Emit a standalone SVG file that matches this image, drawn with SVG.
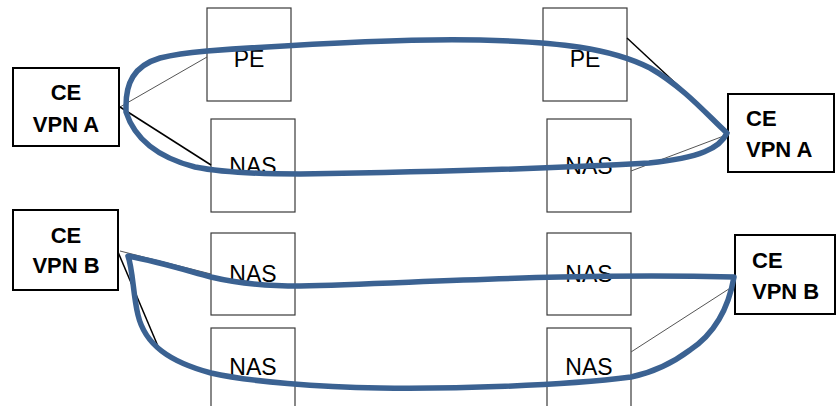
<svg xmlns="http://www.w3.org/2000/svg" width="836" height="406" viewBox="0 0 836 406">
<style>
.ce{fill:#fff;stroke:#000;stroke-width:2}
.pn{fill:#fff;stroke:#3a3a3a;stroke-width:1.2}
.t{font-family:"Liberation Sans",Arial,sans-serif;font-size:23px;fill:#000}
.b{font-family:"Liberation Sans",Arial,sans-serif;font-size:22px;font-weight:bold;fill:#000}
.lk{stroke:#000;stroke-width:1.5;fill:none}
.lg{stroke:#555;stroke-width:1;fill:none}
.tun{fill:none;stroke:#3b6292;stroke-width:5.5;stroke-linejoin:round}
</style>
<rect width="836" height="406" fill="#fff"/>
<g id="pe1"><rect class="pn" x="207" y="8" width="84" height="93"/><text class="t" x="249" y="67" text-anchor="middle" font-size="26">PE</text></g>
<g id="pe2"><rect class="pn" x="543" y="8" width="84" height="93"/><text class="t" x="585" y="67" text-anchor="middle" font-size="26">PE</text></g>
<g id="nas1"><rect class="pn" x="211" y="119" width="84" height="93"/><text class="t" x="253" y="174" text-anchor="middle">NAS</text></g>
<g id="nas2"><rect class="pn" x="547" y="119" width="84" height="93"/><text class="t" x="589" y="174" text-anchor="middle">NAS</text></g>
<g id="nas3"><rect class="pn" x="211" y="233" width="84" height="82"/><text class="t" x="253" y="282" text-anchor="middle">NAS</text></g>
<g id="nas4"><rect class="pn" x="547" y="233" width="84" height="82"/><text class="t" x="589" y="282" text-anchor="middle">NAS</text></g>
<g id="nas5"><rect class="pn" x="211" y="328" width="84" height="82"/><text class="t" x="253" y="375" text-anchor="middle">NAS</text></g>
<g id="nas6"><rect class="pn" x="547" y="328" width="84" height="82"/><text class="t" x="589" y="375" text-anchor="middle">NAS</text></g>
<g id="ceA1"><rect class="ce" x="13" y="68" width="106" height="78"/><text class="b" x="66" y="100" text-anchor="middle">CE</text><text class="b" x="66" y="132" text-anchor="middle">VPN A</text></g>
<g id="ceA2"><rect class="ce" x="728" y="94" width="106" height="78"/><text class="b" x="746" y="126">CE</text><text class="b" x="746" y="157">VPN A</text></g>
<g id="ceB1"><rect class="ce" x="13" y="210" width="105" height="80"/><text class="b" x="66" y="243" text-anchor="middle">CE</text><text class="b" x="66" y="273" text-anchor="middle">VPN B</text></g>
<g id="ceB2"><rect class="ce" x="735" y="235" width="100" height="79"/><text class="b" x="752" y="268">CE</text><text class="b" x="752" y="299">VPN B</text></g>
<g id="connectors">
<line class="lg" x1="120" y1="107" x2="207" y2="57"/>
<line class="lk" x1="120" y1="107" x2="211" y2="165"/>
<line class="lk" x1="627" y1="38" x2="729" y2="133"/>
<line class="lg" x1="631" y1="171" x2="729" y2="134"/>
<line class="lg" x1="120" y1="251" x2="211" y2="274"/>
<line class="lk" x1="118" y1="252" x2="160" y2="351"/>
<line class="lg" x1="735" y1="285" x2="631" y2="352"/>
<path class="tun" d="M126,106 C126,84 133,66 160,58 C180,53 195,52 207,51 C290,45 400,38 480,40 C560,42 610,48 650,68 C685,88 710,118 727,133 C720,148 700,158 649,163 C560,168 430,172 300,174 C250,174 220,172 195,167 C160,158 135,140 126,112 Z"/>
<path class="tun" d="M128,256 C160,262 185,270 211,277 C240,284 265,286 300,286 C420,283 560,273 734,277 C730,300 720,330 690,350 C670,365 650,373 631,377 C560,386 450,389 380,388 C320,387 250,382 211,373 C170,362 145,345 138,315 C133,295 133,270 128,256 Z"/>
</g>
</svg>
